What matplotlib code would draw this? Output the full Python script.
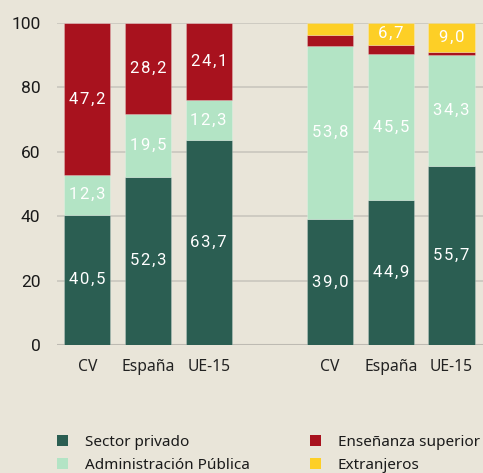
import numpy as np
import matplotlib.pyplot as plt
from matplotlib.patches import Patch

# data (two panels, 3 regions each)
regions = ['CV', 'España', 'UE-15', 'CV', 'España', 'UE-15']
positions = [0, 1, 2, 4, 5, 6]

sector_privado = [40.5, 52.3, 63.7, 39.0, 44.9, 55.7]
admin_publica = [12.3, 19.5, 12.3, 53.8, 45.5, 34.3]
ensenanza_sup = [47.2, 28.2, 24.1, 3.6, 2.9, 1.0]
extranjeros = [0.0, 0.0, 0.0, 3.6, 6.7, 9.0]

series_names = ['Sector privado', 'Administración Pública',
                'Enseñanza superior', 'Extranjeros']
colors = ['#2b5e52', '#b3e4c5', '#a8121e', '#fdcf26']
bg = '#e9e5d9'


def fmt(v):
    # comma decimal, slightly spaced digits like the original
    return '\u200a'.join(f'{v:.1f}'.replace('.', ','))


fig = plt.figure(figsize=(4.83, 4.73), dpi=100, facecolor=bg)
ax = fig.add_axes([0.118, 0.2706, 0.882, 0.6808], facecolor=bg)

series = [sector_privado, admin_publica, ensenanza_sup, extranjeros]
bottom = np.zeros(len(regions))
for vals, col in zip(series, colors):
    vals = np.array(vals)
    ax.bar(positions, vals, bottom=bottom, width=0.76, color=col,
           edgecolor=(1, 1, 1, 0.25), linewidth=0.6, zorder=3)
    for x, v, b in zip(positions, vals, bottom):
        if v >= 5:
            ax.text(x, b + v / 2, fmt(v),
                    ha='center', va='center', color='white',
                    fontsize=12, family=['Roboto', 'DejaVu Sans'], zorder=4)
    bottom += vals

ax.set_xlim(-0.5, 6.52)
ax.set_ylim(0, 100)
ax.set_yticks(range(0, 101, 20))
ax.set_xticks(positions)
ax.set_xticklabels(regions, family='Noto Sans', fontsize=11.3, color='#222222')
for lab in ax.get_yticklabels():
    lab.set_family('Roboto')
    lab.set_fontsize(12.5)
    lab.set_color('#1a1a1a')
ax.tick_params(axis='both', length=0)
ax.tick_params(axis='y', pad=12)
ax.tick_params(axis='x', pad=10)
for s in ax.spines.values():
    s.set_visible(False)
ax.grid(axis='y', color='#c9c6be', linewidth=1.2, zorder=0)
ax.axhline(0, color='#bdbab2', linewidth=2.2, zorder=2)

handles = [Patch(facecolor=c, edgecolor='none') for c in colors]
leg_kw = dict(frameon=False, loc='upper left',
              handlelength=0.72, handleheight=0.72, handletextpad=1.1,
              labelspacing=0.55, borderpad=0, borderaxespad=0,
              prop={'family': 'Noto Sans', 'size': 11})
leg1 = fig.legend(handles[:2], series_names[:2],
                  bbox_to_anchor=(0.118, 0.081), **leg_kw)
leg2 = fig.legend(handles[2:], series_names[2:],
                  bbox_to_anchor=(0.642, 0.081), **leg_kw)
for leg in (leg1, leg2):
    for t in leg.get_texts():
        t.set_color('#1a1a1a')

fig.savefig('out.png', dpi=100, facecolor=bg)
